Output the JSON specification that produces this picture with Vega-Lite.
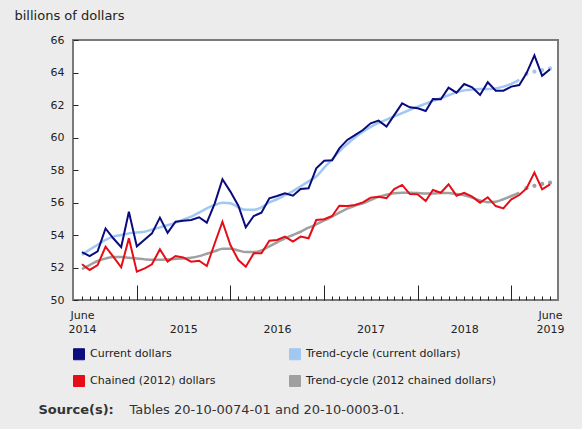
{
  "$schema": "https://vega.github.io/schema/vega-lite/v6.json",
  "width": 485,
  "height": 260,
  "autosize": {"type": "none"},
  "padding": {"left": 73, "top": 40, "right": 24, "bottom": 129},
  "background": "#ececec",
  "config": {
    "font": "DejaVu Sans",
    "view": {"fill": "white", "stroke": "#7a7a7a", "strokeWidth": 2},
    "axis": {"labelFont": "DejaVu Sans", "titleFont": "DejaVu Sans", "labelFontSize": 11, "labelColor": "#222", "tickColor": "#222", "domain": false, "grid": false, "labelFlush": false, "labelOverlap": false}
  },
  "data": {
    "values": [
      {"d": "2014-06", "cur": 52.95, "curT": 52.77, "ch": 52.2, "chT": 51.9},
      {"d": "2014-07", "cur": 52.7, "curT": 53.1, "ch": 51.85, "chT": 52.15},
      {"d": "2014-08", "cur": 53.0, "curT": 53.4, "ch": 52.15, "chT": 52.4},
      {"d": "2014-09", "cur": 54.4, "curT": 53.7, "ch": 53.28, "chT": 52.55},
      {"d": "2014-10", "cur": 53.8, "curT": 53.9, "ch": 52.67, "chT": 52.65},
      {"d": "2014-11", "cur": 53.25, "curT": 54.0, "ch": 52.01, "chT": 52.65},
      {"d": "2014-12", "cur": 55.43, "curT": 54.1, "ch": 53.8, "chT": 52.6},
      {"d": "2015-01", "cur": 53.3, "curT": 54.15, "ch": 51.74, "chT": 52.55},
      {"d": "2015-02", "cur": 53.73, "curT": 54.2, "ch": 51.95, "chT": 52.5},
      {"d": "2015-03", "cur": 54.1, "curT": 54.33, "ch": 52.2, "chT": 52.47},
      {"d": "2015-04", "cur": 55.07, "curT": 54.47, "ch": 53.12, "chT": 52.47},
      {"d": "2015-05", "cur": 54.14, "curT": 54.6, "ch": 52.36, "chT": 52.5},
      {"d": "2015-06", "cur": 54.82, "curT": 54.76, "ch": 52.71, "chT": 52.53},
      {"d": "2015-07", "cur": 54.88, "curT": 54.95, "ch": 52.62, "chT": 52.56},
      {"d": "2015-08", "cur": 54.92, "curT": 55.13, "ch": 52.36, "chT": 52.6},
      {"d": "2015-09", "cur": 55.09, "curT": 55.38, "ch": 52.42, "chT": 52.7},
      {"d": "2015-10", "cur": 54.76, "curT": 55.64, "ch": 52.09, "chT": 52.85},
      {"d": "2015-11", "cur": 55.95, "curT": 55.85, "ch": 53.49, "chT": 53.0},
      {"d": "2015-12", "cur": 57.43, "curT": 55.99, "ch": 54.82, "chT": 53.15},
      {"d": "2016-01", "cur": 56.67, "curT": 55.95, "ch": 53.38, "chT": 53.15},
      {"d": "2016-02", "cur": 55.8, "curT": 55.7, "ch": 52.46, "chT": 53.05},
      {"d": "2016-03", "cur": 54.47, "curT": 55.55, "ch": 52.05, "chT": 52.95},
      {"d": "2016-04", "cur": 55.17, "curT": 55.55, "ch": 52.87, "chT": 52.95},
      {"d": "2016-05", "cur": 55.37, "curT": 55.7, "ch": 52.87, "chT": 53.05},
      {"d": "2016-06", "cur": 56.26, "curT": 56.0, "ch": 53.65, "chT": 53.3},
      {"d": "2016-07", "cur": 56.4, "curT": 56.2, "ch": 53.69, "chT": 53.55},
      {"d": "2016-08", "cur": 56.56, "curT": 56.45, "ch": 53.9, "chT": 53.8},
      {"d": "2016-09", "cur": 56.42, "curT": 56.7, "ch": 53.59, "chT": 54.0},
      {"d": "2016-10", "cur": 56.83, "curT": 57.0, "ch": 53.9, "chT": 54.2},
      {"d": "2016-11", "cur": 56.87, "curT": 57.3, "ch": 53.8, "chT": 54.45},
      {"d": "2016-12", "cur": 58.1, "curT": 57.6, "ch": 54.92, "chT": 54.65},
      {"d": "2017-01", "cur": 58.57, "curT": 58.15, "ch": 54.97, "chT": 54.9},
      {"d": "2017-02", "cur": 58.6, "curT": 58.65, "ch": 55.17, "chT": 55.13},
      {"d": "2017-03", "cur": 59.33, "curT": 59.15, "ch": 55.8, "chT": 55.38},
      {"d": "2017-04", "cur": 59.85, "curT": 59.6, "ch": 55.78, "chT": 55.62},
      {"d": "2017-05", "cur": 60.15, "curT": 60.0, "ch": 55.85, "chT": 55.8},
      {"d": "2017-06", "cur": 60.46, "curT": 60.35, "ch": 56.01, "chT": 55.95},
      {"d": "2017-07", "cur": 60.87, "curT": 60.65, "ch": 56.3, "chT": 56.15},
      {"d": "2017-08", "cur": 61.04, "curT": 60.9, "ch": 56.36, "chT": 56.35},
      {"d": "2017-09", "cur": 60.67, "curT": 61.1, "ch": 56.26, "chT": 56.48},
      {"d": "2017-10", "cur": 61.38, "curT": 61.3, "ch": 56.83, "chT": 56.57},
      {"d": "2017-11", "cur": 62.1, "curT": 61.5, "ch": 57.08, "chT": 56.6},
      {"d": "2017-12", "cur": 61.86, "curT": 61.7, "ch": 56.52, "chT": 56.6},
      {"d": "2018-01", "cur": 61.8, "curT": 61.9, "ch": 56.5, "chT": 56.58},
      {"d": "2018-02", "cur": 61.63, "curT": 62.08, "ch": 56.09, "chT": 56.55},
      {"d": "2018-03", "cur": 62.37, "curT": 62.25, "ch": 56.77, "chT": 56.55},
      {"d": "2018-04", "cur": 62.35, "curT": 62.42, "ch": 56.6, "chT": 56.58},
      {"d": "2018-05", "cur": 63.07, "curT": 62.6, "ch": 57.12, "chT": 56.58},
      {"d": "2018-06", "cur": 62.76, "curT": 62.78, "ch": 56.42, "chT": 56.52},
      {"d": "2018-07", "cur": 63.29, "curT": 62.9, "ch": 56.6, "chT": 56.45},
      {"d": "2018-08", "cur": 63.09, "curT": 62.96, "ch": 56.36, "chT": 56.3},
      {"d": "2018-09", "cur": 62.62, "curT": 62.98, "ch": 55.99, "chT": 56.12},
      {"d": "2018-10", "cur": 63.4, "curT": 62.98, "ch": 56.32, "chT": 56.02},
      {"d": "2018-11", "cur": 62.88, "curT": 63.02, "ch": 55.78, "chT": 56.05},
      {"d": "2018-12", "cur": 62.88, "curT": 63.13, "ch": 55.64, "chT": 56.2},
      {"d": "2019-01", "cur": 63.13, "curT": 63.3, "ch": 56.2, "chT": 56.4},
      {"d": "2019-02", "cur": 63.23, "curT": 63.55, "ch": 56.46, "chT": 56.6},
      {"d": "2019-03", "cur": 63.95, "curT": 63.92, "ch": 56.87, "chT": 56.88},
      {"d": "2019-04", "cur": 65.05, "curT": 64.05, "ch": 57.84, "chT": 57.03},
      {"d": "2019-05", "cur": 63.8, "curT": 64.15, "ch": 56.81, "chT": 57.14},
      {"d": "2019-06", "cur": 64.2, "curT": 64.25, "ch": 57.12, "chT": 57.22}
    ],
    "format": {"parse": {"d": "date"}}
  },
  "encoding": {
    "y": {
      "field": "value", "type": "quantitative",
      "scale": {"domain": [50, 66], "nice": false, "zero": false},
      "axis": {
        "values": [50, 52, 54, 56, 58, 60, 62, 64, 66],
        "tickSize": -5, "labelPadding": 14,
        "title": "billions of dollars", "titleAngle": 0, "titleX": -59, "titleY": -25,
        "titleAlign": "left", "titleBaseline": "middle", "titleFontSize": 13,
        "titleFontWeight": "normal", "titleColor": "#222"
      }
    },
    "color": {
      "field": "series", "type": "nominal",
      "scale": {"domain": ["cur", "ch", "curT", "chT"], "range": ["#0b0b7d", "#e60d16", "#a0c8f0", "#a0a0a0"]},
      "legend": {
        "orient": "none", "legendX": 0, "legendY": 308, "columns": 2, "title": null,
        "symbolType": "square", "symbolSize": 121, "labelFontSize": 11, "labelFont": "DejaVu Sans",
        "labelColor": "#222", "columnPadding": 71, "rowPadding": 11, "labelOffset": 5, "labelLimit": 400,
        "labelExpr": "datum.label == 'cur' ? 'Current dollars' : datum.label == 'curT' ? 'Trend-cycle (current dollars)' : datum.label == 'ch' ? 'Chained (2012) dollars' : 'Trend-cycle (2012 chained dollars)'",
        "encode": {"symbols": {"update": {"fill": {"scale": "color", "field": "value"}, "stroke": {"value": "#555"}, "strokeWidth": {"value": 1}, "opacity": {"value": 1}}}}
      }
    }
  },
  "layer": [
    {
      "transform": [
        {"fold": ["curT", "chT"], "as": ["series", "value"]},
        {"filter": "time(datum.d) < utc(2019, 2, 1)"}
      ],
      "mark": {"type": "line", "strokeWidth": 2.5, "interpolate": "monotone"},
      "encoding": {
        "x": {
          "field": "d", "type": "temporal",
          "scale": {"type": "utc", "domain": [{"year": 2014, "month": 4, "date": 27, "utc": true}, {"year": 2019, "month": 7, "date": 2, "utc": true}]},
          "axis": {
            "orient": "bottom",
            "title": "Source(s):", "titleFontWeight": "bold", "titleFontSize": 13, "titleColor": "#333",
            "titleX": -35, "titleY": 109, "titleAlign": "left", "titleBaseline": "middle", "titleAngle": 0,
            "labels": false, "tickSize": -4,
            "values": [
              {"year": 2014, "month": 6, "utc": true}, {"year": 2014, "month": 7, "utc": true}, {"year": 2014, "month": 8, "utc": true}, {"year": 2014, "month": 9, "utc": true}, {"year": 2014, "month": 10, "utc": true}, {"year": 2014, "month": 11, "utc": true}, {"year": 2014, "month": 12, "utc": true},
              {"year": 2015, "month": 1, "utc": true}, {"year": 2015, "month": 2, "utc": true}, {"year": 2015, "month": 3, "utc": true}, {"year": 2015, "month": 4, "utc": true}, {"year": 2015, "month": 5, "utc": true}, {"year": 2015, "month": 6, "utc": true}, {"year": 2015, "month": 7, "utc": true}, {"year": 2015, "month": 8, "utc": true}, {"year": 2015, "month": 9, "utc": true}, {"year": 2015, "month": 10, "utc": true}, {"year": 2015, "month": 11, "utc": true}, {"year": 2015, "month": 12, "utc": true},
              {"year": 2016, "month": 1, "utc": true}, {"year": 2016, "month": 2, "utc": true}, {"year": 2016, "month": 3, "utc": true}, {"year": 2016, "month": 4, "utc": true}, {"year": 2016, "month": 5, "utc": true}, {"year": 2016, "month": 6, "utc": true}, {"year": 2016, "month": 7, "utc": true}, {"year": 2016, "month": 8, "utc": true}, {"year": 2016, "month": 9, "utc": true}, {"year": 2016, "month": 10, "utc": true}, {"year": 2016, "month": 11, "utc": true}, {"year": 2016, "month": 12, "utc": true},
              {"year": 2017, "month": 1, "utc": true}, {"year": 2017, "month": 2, "utc": true}, {"year": 2017, "month": 3, "utc": true}, {"year": 2017, "month": 4, "utc": true}, {"year": 2017, "month": 5, "utc": true}, {"year": 2017, "month": 6, "utc": true}, {"year": 2017, "month": 7, "utc": true}, {"year": 2017, "month": 8, "utc": true}, {"year": 2017, "month": 9, "utc": true}, {"year": 2017, "month": 10, "utc": true}, {"year": 2017, "month": 11, "utc": true}, {"year": 2017, "month": 12, "utc": true},
              {"year": 2018, "month": 1, "utc": true}, {"year": 2018, "month": 2, "utc": true}, {"year": 2018, "month": 3, "utc": true}, {"year": 2018, "month": 4, "utc": true}, {"year": 2018, "month": 5, "utc": true}, {"year": 2018, "month": 6, "utc": true}, {"year": 2018, "month": 7, "utc": true}, {"year": 2018, "month": 8, "utc": true}, {"year": 2018, "month": 9, "utc": true}, {"year": 2018, "month": 10, "utc": true}, {"year": 2018, "month": 11, "utc": true}, {"year": 2018, "month": 12, "utc": true},
              {"year": 2019, "month": 1, "utc": true}, {"year": 2019, "month": 2, "utc": true}, {"year": 2019, "month": 3, "utc": true}, {"year": 2019, "month": 4, "utc": true}, {"year": 2019, "month": 5, "utc": true}, {"year": 2019, "month": 6, "utc": true}
            ]
          }
        }
      }
    },
    {
      "transform": [
        {"fold": ["curT", "chT"], "as": ["series", "value"]},
        {"filter": "time(datum.d) >= utc(2019, 2, 1)"}
      ],
      "mark": {"type": "point", "filled": true, "size": 18, "opacity": 1},
      "encoding": {
        "x": {
          "field": "d", "type": "temporal",
          "axis": {
            "orient": "bottom",
            "title": "Tables 20-10-0074-01 and 20-10-0003-01.", "titleFontWeight": "normal", "titleFontSize": 13, "titleColor": "#333",
            "titleX": 56, "titleY": 109, "titleAlign": "left", "titleBaseline": "middle", "titleAngle": 0,
            "labels": false, "tickSize": -15,
            "values": [{"year": 2015, "month": 1, "utc": true}, {"year": 2016, "month": 1, "utc": true}, {"year": 2017, "month": 1, "utc": true}, {"year": 2018, "month": 1, "utc": true}, {"year": 2019, "month": 1, "utc": true}]
          }
        }
      }
    },
    {
      "transform": [
        {"fold": ["cur", "ch"], "as": ["series", "value"]}
      ],
      "mark": {"type": "line", "strokeWidth": 2},
      "encoding": {
        "x": {
          "field": "d", "type": "temporal",
          "axis": {
            "orient": "bottom",
            "title": null, "ticks": false, "labelPadding": 9, "labelLineHeight": 14, "labelAlign": "center", "labelBaseline": "top",
            "values": [{"year": 2014, "month": 6, "utc": true}, {"year": 2015, "month": 7, "utc": true}, {"year": 2016, "month": 7, "utc": true}, {"year": 2017, "month": 7, "utc": true}, {"year": 2018, "month": 7, "utc": true}, {"year": 2019, "month": 6, "utc": true}],
            "labelExpr": "utcFormat(datum.value, '%m') == '06' ? ['June', utcFormat(datum.value, '%Y')] : ['', utcFormat(datum.value, '%Y')]"
          }
        }
      }
    }
  ],
  "resolve": {"axis": {"x": "independent"}}
}
